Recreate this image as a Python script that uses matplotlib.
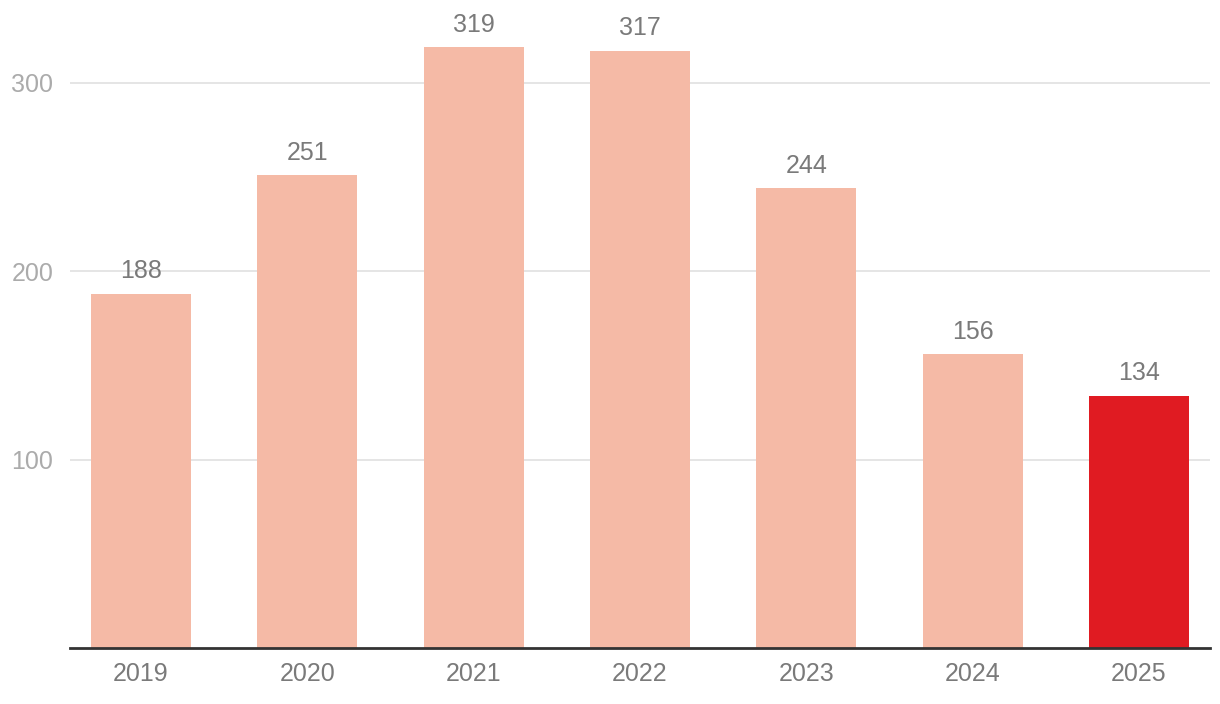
import matplotlib.pyplot as plt

# Dane
years = ['2019', '2020', '2021', '2022', '2023', '2024', '2025']
values = [188, 251, 319, 317, 244, 156, 134]
colors = ['#F5BAA6'] * 6 + ['#E01B22']
y_ticks = [100, 200, 300]

plt.rcParams['font.family'] = ['Liberation Sans', 'DejaVu Sans']

fig = plt.figure(figsize=(12.2, 7.04), dpi=100)
ax = fig.add_axes([70/1220, (704-648)/704, 1140/1220, 648/704])

x = range(len(years))
bars = ax.bar(x, values, width=0.6, color=colors, zorder=2)

# Etykiety wartosci
for xi, v in zip(x, values):
    ax.annotate(str(v), (xi, v), xytext=(0, 7.5), textcoords='offset points',
                ha='center', va='bottom', fontsize=18, color='#7a7a7a')

ax.set_xlim(-0.427, 6.427)
ax.set_ylim(0, 344)
ax.set_xticks(list(x))
ax.set_xticklabels(years)
ax.set_yticks(y_ticks)
ax.set_yticklabels([str(t) for t in y_ticks])

ax.tick_params(axis='x', length=0, pad=10, labelsize=18, labelcolor='#7a7a7a')
ax.tick_params(axis='y', length=0, pad=12, labelsize=18, labelcolor='#ababab')

ax.grid(axis='y', color='#e3e3e3', linewidth=1.3, zorder=0)
for s in ['top', 'right', 'left']:
    ax.spines[s].set_visible(False)
ax.spines['bottom'].set_color('#333333')
ax.spines['bottom'].set_linewidth(2)
ax.spines['bottom'].set_zorder(3)

fig.savefig('out.png', dpi=100)
